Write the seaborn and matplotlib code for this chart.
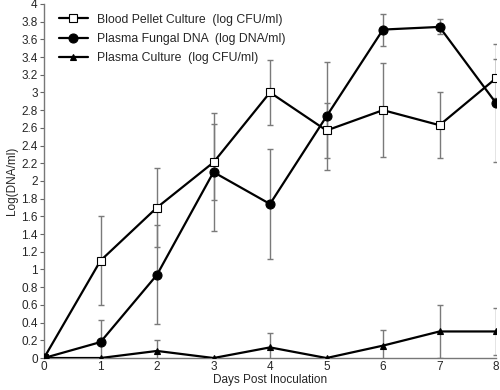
import pandas as pd
import numpy as np
import seaborn as sns
import matplotlib.pyplot as plt
from matplotlib.lines import Line2D

days = [0, 1, 2, 3, 4, 5, 6, 7, 8]

pellet = [0, 1.10, 1.70, 2.21, 3.00, 2.57, 2.80, 2.63, 3.16]
pellet_err = [0, 0.50, 0.45, 0.43, 0.37, 0.31, 0.53, 0.37, 0.22]

fungal_dna = [0, 0.18, 0.94, 2.10, 1.74, 2.73, 3.71, 3.74, 2.88]
fungal_err = [0, 0.25, 0.56, 0.67, 0.62, 0.61, 0.18, 0.085, 0.67]

plasma = [0, 0, 0.08, 0, 0.12, 0, 0.14, 0.30, 0.30]
plasma_err = [0, 0, 0.12, 0, 0.16, 0, 0.18, 0.30, 0.27]

labels = ["Blood Pellet Culture  (log CFU/ml)",
          "Plasma Fungal DNA  (log DNA/ml)",
          "Plasma Culture  (log CFU/ml)"]

df = pd.DataFrame({
    "day": days * 3,
    "value": pellet + fungal_dna + plasma,
    "err": pellet_err + fungal_err + plasma_err,
    "series": [labels[0]] * 9 + [labels[1]] * 9 + [labels[2]] * 9,
})

sns.set_style("ticks")
plt.rcParams['font.family'] = ['Liberation Sans', 'DejaVu Sans']

fig, ax = plt.subplots(figsize=(5, 3.9), dpi=100)
fig.subplots_adjust(left=0.088, right=0.992, top=0.99, bottom=0.082)

# error bars first, grey, under the lines
for name in labels:
    d = df[df["series"] == name]
    ax.errorbar(d["day"], d["value"], yerr=d["err"], fmt="none",
                ecolor="#7a7a7a", elinewidth=1.0, capsize=2.2, capthick=1.0, zorder=1)

n_before = len(ax.lines)
sns.lineplot(data=df, x="day", y="value", hue="series", style="series",
             palette=["black"] * 3, markers=["s", "o", "^"], dashes=False,
             linewidth=1.6, markersize=6, ax=ax, zorder=3, legend=False)

styles = [("s", 6, "white"), ("o", 6.5, "black"), ("^", 4.5, "black")]
for line, (m, ms, fc) in zip(ax.lines[n_before:], styles):
    line.set_markerfacecolor(fc)
    line.set_markeredgecolor("black")
    line.set_markeredgewidth(0.8)
    line.set_markersize(ms)

handles = [Line2D([], [], color="black", lw=1.6, marker=m, markersize=s,
                  markerfacecolor=fc, markeredgecolor="black", markeredgewidth=0.8)
           for m, s, fc in styles]
ax.legend(handles, labels, loc="upper left", bbox_to_anchor=(0.011, 1.0), frameon=False,
          fontsize=8.8, handlelength=2.4, handletextpad=0.7, labelspacing=0.6,
          borderaxespad=0.4)

ax.set_xlim(0, 8)
ax.set_ylim(0, 4)
ax.set_xticks(days)
yt = np.round(np.arange(0, 4.01, 0.2), 1)
ax.set_yticks(yt)
ax.set_yticklabels([f"{v:g}" for v in yt])
ax.tick_params(axis="both", labelsize=8.5, length=3, width=0.8, color="#666666", pad=1.5)
ax.tick_params(axis="x", length=0, pad=2.5)
ax.set_xlabel("Days Post Inoculation", fontsize=8.5, labelpad=0.5)
ax.set_ylabel("Log(DNA/ml)", fontsize=8.5, labelpad=2)
for s in ["left", "bottom"]:
    ax.spines[s].set_color("#777777")
    ax.spines[s].set_linewidth(1.0)
sns.despine(ax=ax)

plt.savefig("out.png", dpi=100)
plt.close()
